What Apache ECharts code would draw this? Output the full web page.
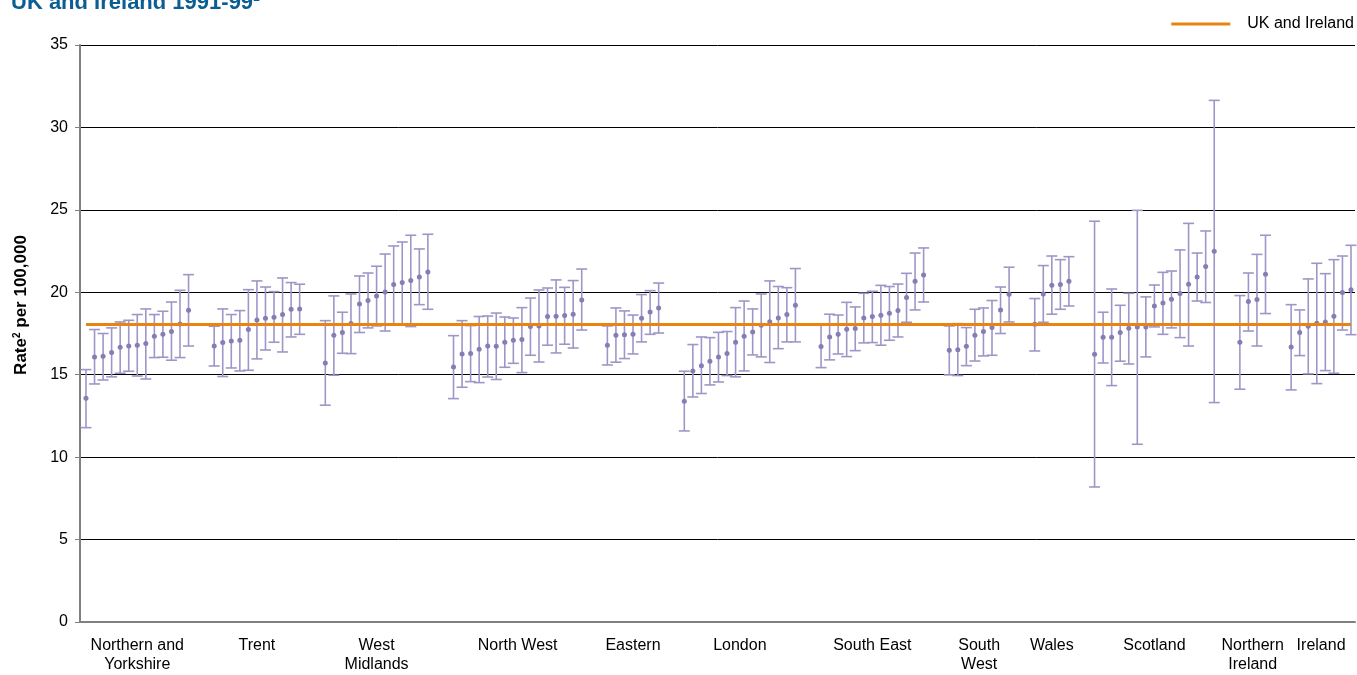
<!DOCTYPE html>
<html>
<head>
<meta charset="utf-8">
<script src="https://cdn.jsdelivr.net/npm/echarts@6/dist/echarts.min.js"></script>
<style>html,body{margin:0;padding:0;background:#fff;}#chart{width:1357px;height:675px;}</style>
</head>
<body>
<div id="chart"></div>
<script>
// ---- data ----
const regionNames = ['Northern and\nYorkshire','Trent','West\nMidlands','North West','Eastern','London','South East','South\nWest','Wales','Scotland','Northern\nIreland','Ireland'];
const ukIrelandRate = 18.04;
const rate = [
  [13.57,16.08,16.12,16.34,16.67,16.74,16.79,16.89,17.33,17.45,17.62,18.08,18.91],
  [16.74,16.95,17.05,17.09,17.74,18.32,18.42,18.48,18.65,18.97,18.99],
  [15.71,17.39,17.56,18.10,19.29,19.50,19.78,20.02,20.47,20.59,20.71,20.93,21.23],
  [15.47,16.26,16.28,16.54,16.74,16.72,16.97,17.09,17.13,17.92,17.96,18.53,18.54,18.59,18.67,19.53],
  [16.79,17.39,17.43,17.45,18.42,18.81,19.05],
  [13.39,15.23,15.55,15.82,16.08,16.28,16.97,17.33,17.59,18.00,18.22,18.44,18.65,19.21],
  [16.71,17.29,17.45,17.76,17.80,18.44,18.53,18.61,18.73,18.89,19.68,20.67,21.05],
  [16.48,16.52,16.72,17.39,17.62,17.86,18.93,19.88],
  [18.06,19.90,20.42,20.47,20.67],
  [16.24,17.27,17.27,17.56,17.82,17.90,17.90,19.17,19.35,19.58,19.92,20.49,20.93,21.56,22.49],
  [16.97,19.44,19.56,21.09],
  [16.68,17.56,17.94,18.12,18.20,18.54,19.98,20.16]
];
const lowerCI = [
  [11.79,14.44,14.68,14.87,15.09,15.21,14.92,14.74,16.04,16.06,15.88,16.04,16.74],
  [15.53,14.89,15.41,15.23,15.27,15.96,16.50,16.97,16.38,17.29,17.45],
  [13.15,14.97,16.30,16.28,17.56,17.84,17.96,17.65,18.08,18.08,17.92,19.25,18.97],
  [13.55,14.24,14.58,14.52,14.86,14.71,15.45,15.69,15.13,16.18,15.77,16.79,16.32,16.85,16.62,17.71],
  [15.59,15.76,15.98,16.26,16.99,17.45,17.53],
  [11.59,13.65,13.86,14.38,14.56,14.95,14.87,15.23,16.20,16.08,15.74,16.58,16.99,16.99],
  [15.43,15.90,16.26,16.10,16.46,16.93,16.95,16.79,17.09,17.29,18.18,18.93,19.41],
  [14.99,14.95,15.55,15.83,16.14,16.18,17.50,18.20],
  [16.44,18.18,18.67,18.97,19.17],
  [8.19,15.71,14.34,15.82,15.65,10.78,16.08,17.90,17.45,17.84,17.25,16.74,19.47,19.38,13.31],
  [14.12,17.65,16.74,18.71],
  [14.08,16.16,15.05,14.46,15.25,15.09,17.71,17.43]
];
const upperCI = [
  [15.31,17.74,17.50,17.84,18.20,18.30,18.65,18.99,18.65,18.85,19.41,20.12,21.07],
  [17.94,18.99,18.65,18.89,20.16,20.69,20.32,20.04,20.87,20.59,20.49],
  [18.28,19.78,18.79,19.90,20.99,21.17,21.58,22.32,22.81,23.05,23.46,22.63,23.52],
  [17.37,18.28,17.98,18.53,18.56,18.74,18.50,18.44,19.07,19.65,20.14,20.26,20.75,20.30,20.71,21.41],
  [17.96,19.05,18.87,18.62,19.86,20.10,20.56],
  [15.21,16.83,17.29,17.25,17.57,17.62,19.07,19.47,18.99,19.90,20.69,20.35,20.28,21.44],
  [18.00,18.67,18.62,19.39,19.11,19.94,20.06,20.42,20.35,20.50,21.15,22.38,22.69],
  [17.96,18.10,17.86,18.97,19.05,19.50,20.32,21.52],
  [19.62,21.62,22.20,21.98,22.16],
  [24.31,18.79,20.20,19.21,19.94,24.97,19.72,20.44,21.21,21.29,22.57,24.18,22.38,23.72,31.64],
  [19.80,21.17,22.30,23.46],
  [19.25,18.93,20.81,21.76,21.13,21.98,22.20,22.85]
];
const yTicks = [0,5,10,15,20,25,30,35];

// ---- layout (slots on a value axis, two empty slots between regions) ----
const GAP = 2;
const barData = [];
const labelCenters = [];
const labelByCenter = {};
let slot = 0;
regionNames.forEach((name, r) => {
  const start = slot;
  rate[r].forEach((v, i) => {
    barData.push([slot, lowerCI[r][i], upperCI[r][i], v]);
    slot++;
  });
  const c = start + (rate[r].length - 1) / 2;
  labelCenters.push(c);
  labelByCenter[String(c)] = name;
  slot += GAP;
});
const lastSlot = slot - GAP - 1;

const FONT = "'Liberation Sans', Arial, sans-serif";
const barColor = '#9f96c7';
const dotColor = '#877db5';
const orange = '#ea8410';

const chart = echarts.init(document.getElementById('chart'));
chart.setOption({
  animation: false,
  textStyle: {fontFamily: FONT},
  grid: {left: 80, right: 2, top: 45, bottom: 53, containLabel: false},
  legend: {
    right: 3, top: 16, padding: 0, itemWidth: 59, itemHeight: 3, icon: 'rect',
    textStyle: {fontSize: 16, color: '#000', fontFamily: FONT, padding: [0, 0, 0, 12]},
    data: ['UK and Ireland']
  },
  graphic: [
    {type: 'text', x: 11, y: 3, style: {
      text: 'UK and Ireland 1991-99{s|1}', textVerticalAlign: 'middle',
      font: 'bold 22px ' + FONT, fill: '#0a5e91',
      rich: {s: {fontSize: 12, fontWeight: 'bold', verticalAlign: 'top', lineHeight: 12, fill: '#0a5e91'}}
    }},
    {type: 'text', x: 21, y: 305, rotation: Math.PI / 2, style: {
      text: 'Rate{s|2} per 100,000', textAlign: 'center', textVerticalAlign: 'middle',
      font: 'bold 17px ' + FONT, fill: '#000',
      rich: {s: {fontSize: 10, fontWeight: 'bold', verticalAlign: 'top', lineHeight: 10}}
    }}
  ],
  xAxis: {
    type: 'value', min: -0.7, max: lastSlot + 0.47,
    splitLine: {show: false},
    axisLine: {show: true, onZero: false, lineStyle: {color: '#808080', width: 2}},
    axisTick: {show: false},
    axisLabel: {
      customValues: labelCenters,
      formatter: v => labelByCenter[String(v)] || '',
      fontSize: 16, color: '#000', margin: 14, lineHeight: 19, fontFamily: FONT
    }
  },
  yAxis: {
    type: 'value', min: yTicks[0], max: yTicks[yTicks.length - 1], interval: 5,
    axisLine: {show: true, onZero: false, lineStyle: {color: '#808080', width: 2}},
    axisTick: {show: true, length: 5, lineStyle: {color: '#808080'}},
    axisLabel: {fontSize: 16, color: '#000', margin: 12, fontFamily: FONT},
    splitLine: {show: true, lineStyle: {color: '#000', width: 1}}
  },
  series: [
    {
      type: 'custom', name: 'rates', z: 2,
      data: barData,
      encode: {x: 0, y: [1, 2]},
      renderItem: function (params, api) {
        const x = api.value(0);
        const lo = api.coord([x, api.value(1)]);
        const hi = api.coord([x, api.value(2)]);
        const m = api.coord([x, api.value(3)]);
        const hw = 5.5;
        const st = {stroke: barColor, lineWidth: 1.6};
        return {type: 'group', children: [
          {type: 'line', shape: {x1: hi[0], y1: hi[1], x2: lo[0], y2: lo[1]}, style: st},
          {type: 'line', shape: {x1: hi[0] - hw, y1: hi[1], x2: hi[0] + hw, y2: hi[1]}, style: st},
          {type: 'line', shape: {x1: lo[0] - hw, y1: lo[1], x2: lo[0] + hw, y2: lo[1]}, style: st},
          {type: 'circle', shape: {cx: m[0], cy: m[1], r: 2.5}, style: {fill: dotColor}}
        ]};
      }
    },
    {
      type: 'line', name: 'UK and Ireland', z: 5, color: orange,
      data: [[0, ukIrelandRate], [lastSlot, ukIrelandRate]],
      symbol: 'none', lineStyle: {color: orange, width: 3}
    }
  ]
});
</script>
</body>
</html>
